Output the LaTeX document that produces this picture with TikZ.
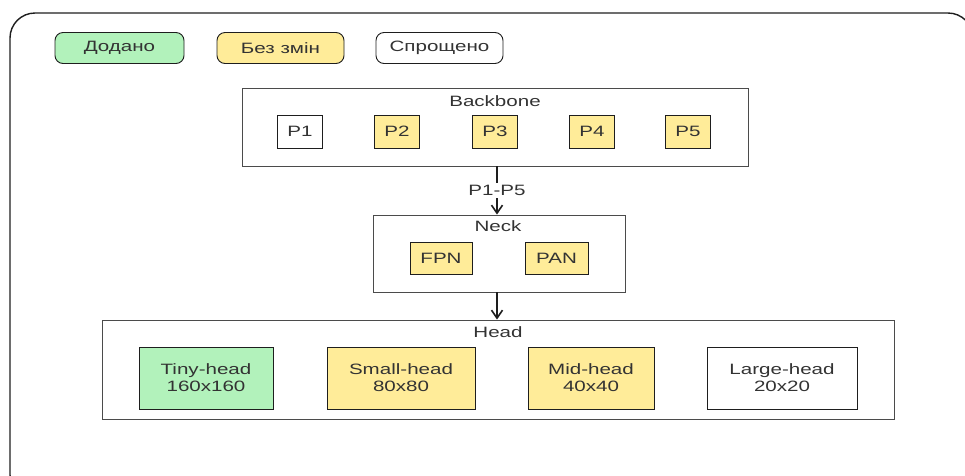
\documentclass[tikz,border=0pt]{standalone}
\usepackage{fontspec}
\setmainfont{Liberation Sans}[FakeStretch=1.37]
\usetikzlibrary{arrows.meta}
\definecolor{addgreen}{HTML}{B2F2BB}
\definecolor{keepyellow}{HTML}{FFEC99}
\definecolor{ink}{HTML}{1E1E1E}
\begin{document}
\begin{tikzpicture}[x=1pt,y=-1pt,
    every node/.style={font=\fontsize{15}{17}\selectfont,text=black!80,inner sep=0pt},
    legend/.style={draw=ink,line width=0.9pt,rounded corners=8pt,minimum height=31pt,minimum width=#1},
    group/.style={draw=ink!80,line width=0.9pt,minimum width=#1},
    block/.style={draw=ink,line width=0.9pt,align=center,minimum width=#1},
    flow/.style={draw=ink,line width=2pt,-{Straight Barb[length=8pt,width=11pt,line width=1.6pt]}}]
  \useasboundingbox (0,0) rectangle (965,475);
  \clip (0,0) rectangle (965,475);
  \draw[ink,line width=1.4pt,rounded corners=25pt] (10,13) rectangle (973,500);
  % legend
  \node[legend=129pt,fill=addgreen] (added) at (119.5,48) {Додано};
  \node[legend=127pt,fill=keepyellow] (same) at (280.5,48) {Без змін};
  \node[legend=127pt,fill=white] (simple) at (439.5,48) {Спрощено};
  % backbone
  \node[group=506pt,minimum height=78pt] (backbone) at (495,127) {};
  \node (bbtitle) at (495,101) {Backbone};
  \foreach \i/\x/\c in {1/300/white,2/397/keepyellow,3/495/keepyellow,4/592/keepyellow,5/688/keepyellow}
    \node[block=45pt,minimum height=33pt,fill=\c] (p\i) at (\x,131.5) {P\i};
  % neck
  \node[group=252pt,minimum height=77pt] (neck) at (499,253.5) {};
  \node (necktitle) at (498,226) {Neck};
  \node[block=62pt,minimum height=32pt,fill=keepyellow] (fpn) at (441,258) {FPN};
  \node[block=63pt,minimum height=32pt,fill=keepyellow] (pan) at (556.5,258) {PAN};
  % head
  \node[group=792pt,minimum height=99pt] (head) at (498,369.5) {};
  \node (headtitle) at (498,332) {Head};
  \node[block=134pt,minimum height=62pt,fill=addgreen] (tiny) at (206,378) {Tiny-head\\160x160};
  \node[block=148pt,minimum height=62pt,fill=keepyellow] (small) at (401,378) {Small-head\\80x80};
  \node[block=126pt,minimum height=62pt,fill=keepyellow] (mid) at (591,378) {Mid-head\\40x40};
  \node[block=150pt,minimum height=62pt,fill=white] (large) at (782,378) {Large-head\\20x20};
  % arrows
  \draw[flow] (backbone.south -| 497,0) -- node[fill=white,inner sep=2pt] (plabel) {P1-P5} (neck.north -| 497,0);
  \draw[flow] (neck.south -| 497,0) -- (head.north -| 497,0);
\end{tikzpicture}
\end{document}
